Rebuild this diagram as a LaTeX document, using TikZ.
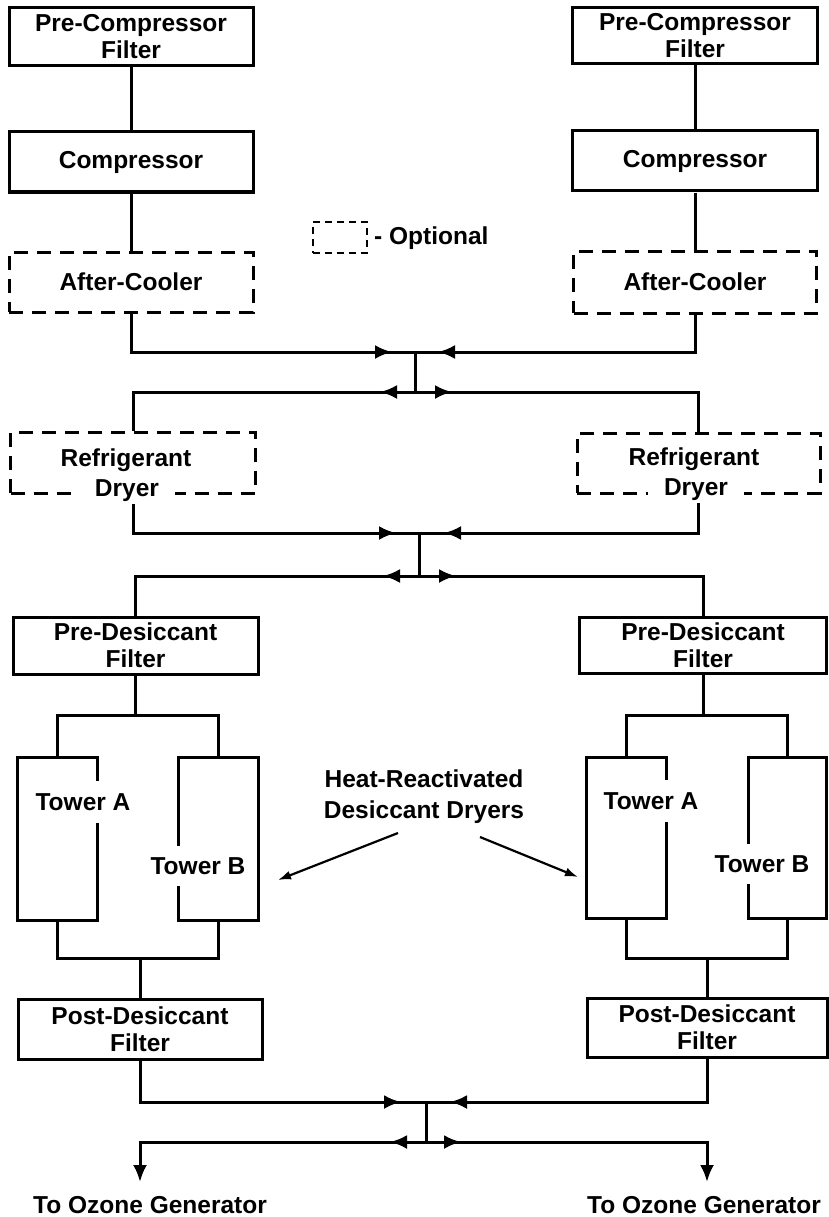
\documentclass[tikz,border=0pt]{standalone}
\usepackage{fontspec}
\setmainfont{Liberation Sans}
\usetikzlibrary{arrows.meta}
\begin{document}
\begin{tikzpicture}[x=1pt,y=-1pt,
  lab/.style={font=\fontsize{24.5}{27}\selectfont\bfseries, align=center, inner sep=0pt},
  box/.style={lab, draw, line width=3pt},
  optbox/.style={box, dash pattern=on 14pt off 9pt},
  tower/.style={draw, line width=3pt, minimum width=80pt, inner sep=0pt},
  conn/.style={line width=3pt},
  flow/.style={conn, -{Latex[length=17pt,width=14pt]}},
  note/.style={line width=2.2pt, -{Latex[length=13pt,width=9pt]}},
  cover/.style={lab, fill=white, inner xsep=3pt},
]
\useasboundingbox (0,0) rectangle (829,1217);

% ---------- top row ----------
\node[box, minimum width=244pt, minimum height=58pt] (pcfL) at (131,37) {Pre-Compressor\\Filter};
\node[box, minimum width=244pt, minimum height=60pt] (compL) at (131,162) {Compressor};
\node[optbox, minimum width=244pt, minimum height=60pt] (acL) at (131,282) {After-Cooler};

\node[box, minimum width=245pt, minimum height=56pt] (pcfR) at (695,36) {Pre-Compressor\\Filter};
\node[box, minimum width=245pt, minimum height=60pt] (compR) at (695,161) {Compressor};
\node[optbox, minimum width=243pt, minimum height=62pt] (acR) at (695,282) {After-Cooler};

\draw[conn] (pcfL) -- (compL);
\draw[conn] (compL) -- (acL);
\draw[conn] (pcfR) -- (compR);
\draw[conn] (compR) -- (acR);

% legend
\node[draw, line width=2.6pt, dash pattern=on 7pt off 5pt, minimum width=54pt, minimum height=31pt, inner sep=0pt] (leg) at (340,237.5) {};
\node[lab, anchor=west] (legt) at (374,238) {- Optional};

% ---------- refrigerant dryers ----------
\node[optbox, minimum width=245pt, minimum height=61pt] (rdL) at (133,462.5) {};
\node[lab] (rtL) at (126,460) {Refrigerant};
\node[cover, inner xsep=16pt, inner ysep=2pt] (dyL) at (127,491) {Dryer};

\node[optbox, minimum width=243pt, minimum height=60pt] (rdR) at (698.5,463) {};
\node[lab] (rtR) at (694,459) {Refrigerant};
\node[cover, inner xsep=16pt, inner ysep=2pt] (dyR) at (696,490) {Dryer};

% junction 1
\coordinate (j1u) at (415,352);
\coordinate (j1l) at (415,392);
\coordinate (j1a) at (392,352);
\coordinate (j1b) at (438,352);
\coordinate (j1c) at (380,392);
\coordinate (j1d) at (452,392);
\draw[conn] (acL.south) |- (j1u) -| (acR.south);
\draw[conn] (j1u) -- (j1l);
\draw[conn] (rdL.north) |- (j1l) -| (rdR.north);
\draw[flow] ([xshift=-20pt]j1a) -- (j1a);
\draw[flow] ([xshift=20pt]j1b) -- (j1b);
\draw[flow] ([xshift=20pt]j1c) -- (j1c);
\draw[flow] ([xshift=-20pt]j1d) -- (j1d);

% ---------- pre-desiccant filters ----------
\node[box, minimum width=245pt, minimum height=57pt] (pdL) at (135.5,645.5) {Pre-Desiccant\\Filter};
\node[box, minimum width=247pt, minimum height=56pt] (pdR) at (703,645) {Pre-Desiccant\\Filter};

% junction 2
\coordinate (j2u) at (419,533);
\coordinate (j2l) at (419,576);
\coordinate (j2a) at (396,533);
\coordinate (j2b) at (444,533);
\coordinate (j2c) at (383,576);
\coordinate (j2d) at (456,576);
\draw[conn] (rdL.south |- dyL.south) |- (j2u) -| (rdR.south |- dyR.south);
\draw[conn] (j2u) -- (j2l);
\draw[conn] (pdL.north) |- (j2l) -| (pdR.north);
\draw[flow] ([xshift=-20pt]j2a) -- (j2a);
\draw[flow] ([xshift=20pt]j2b) -- (j2b);
\draw[flow] ([xshift=20pt]j2c) -- (j2c);
\draw[flow] ([xshift=-20pt]j2d) -- (j2d);

% ---------- towers ----------
\node[tower, minimum height=163pt] (taL) at (57,838.5) {};
\node[tower, minimum height=163pt] (tbL) at (218,838.5) {};
\node[tower, minimum height=161pt] (taR) at (626,837.5) {};
\node[tower, minimum height=161pt, minimum width=78pt] (tbR) at (787,837.5) {};

\node[cover, minimum height=42pt] (taLt) at (83,802) {Tower A};
\node[cover, minimum height=40pt] (tbLt) at (198,866) {Tower B};
\node[cover, minimum height=42pt] (taRt) at (651,801) {Tower A};
\node[cover, minimum height=40pt] (tbRt) at (762,864) {Tower B};

\coordinate (bL) at (135.5,715);
\coordinate (bR) at (703,715);
\draw[conn] (pdL.south) -- (bL);
\draw[conn] (taL.north) |- (bL) -| (tbL.north);
\draw[conn] (pdR.south) -- (bR);
\draw[conn] (taR.north) |- (bR) -| (tbR.north);

% heat-reactivated label
\node[lab, align=center] (hr) at (424,797) {Heat-Reactivated\\[4pt]Desiccant Dryers};
\coordinate (hl0) at (398,833);
\coordinate (hl1) at (278,880);
\coordinate (hr0) at (480,837);
\coordinate (hr1) at (578,877);
\draw[note] (hl0) -- (hl1);
\draw[note] (hr0) -- (hr1);

% ---------- post-desiccant filters ----------
\node[box, minimum width=244pt, minimum height=60pt] (poL) at (140,1029) {Post-Desiccant\\Filter};
\node[box, minimum width=240pt, minimum height=59pt] (poR) at (707,1027.5) {Post-Desiccant\\Filter};

\coordinate (cL) at (140,958);
\coordinate (cR) at (707,958);
\draw[conn] (taL.south) |- (cL) -| (tbL.south);
\draw[conn] (cL) -- (poL.north);
\draw[conn] (taR.south) |- (cR) -| (tbR.south);
\draw[conn] (cR) -- (poR.north);

% junction 3
\coordinate (j3u) at (426,1102);
\coordinate (j3l) at (426,1142);
\coordinate (j3a) at (401,1102);
\coordinate (j3b) at (450,1102);
\coordinate (j3c) at (390,1142);
\coordinate (j3d) at (461,1142);
\coordinate (eL) at (140,1182);
\coordinate (eR) at (707,1182);
\draw[conn] (poL.south) |- (j3u) -| (poR.south);
\draw[conn] (j3u) -- (j3l);
\draw[flow] (j3l) -| (eL);
\draw[flow] (j3l) -| (eR);
\draw[flow] ([xshift=-20pt]j3a) -- (j3a);
\draw[flow] ([xshift=20pt]j3b) -- (j3b);
\draw[flow] ([xshift=20pt]j3c) -- (j3c);
\draw[flow] ([xshift=-20pt]j3d) -- (j3d);

\node[lab] (ozL) at (150,1205) {To Ozone Generator};
\node[lab] (ozR) at (704,1205) {To Ozone Generator};
\end{tikzpicture}
\end{document}
